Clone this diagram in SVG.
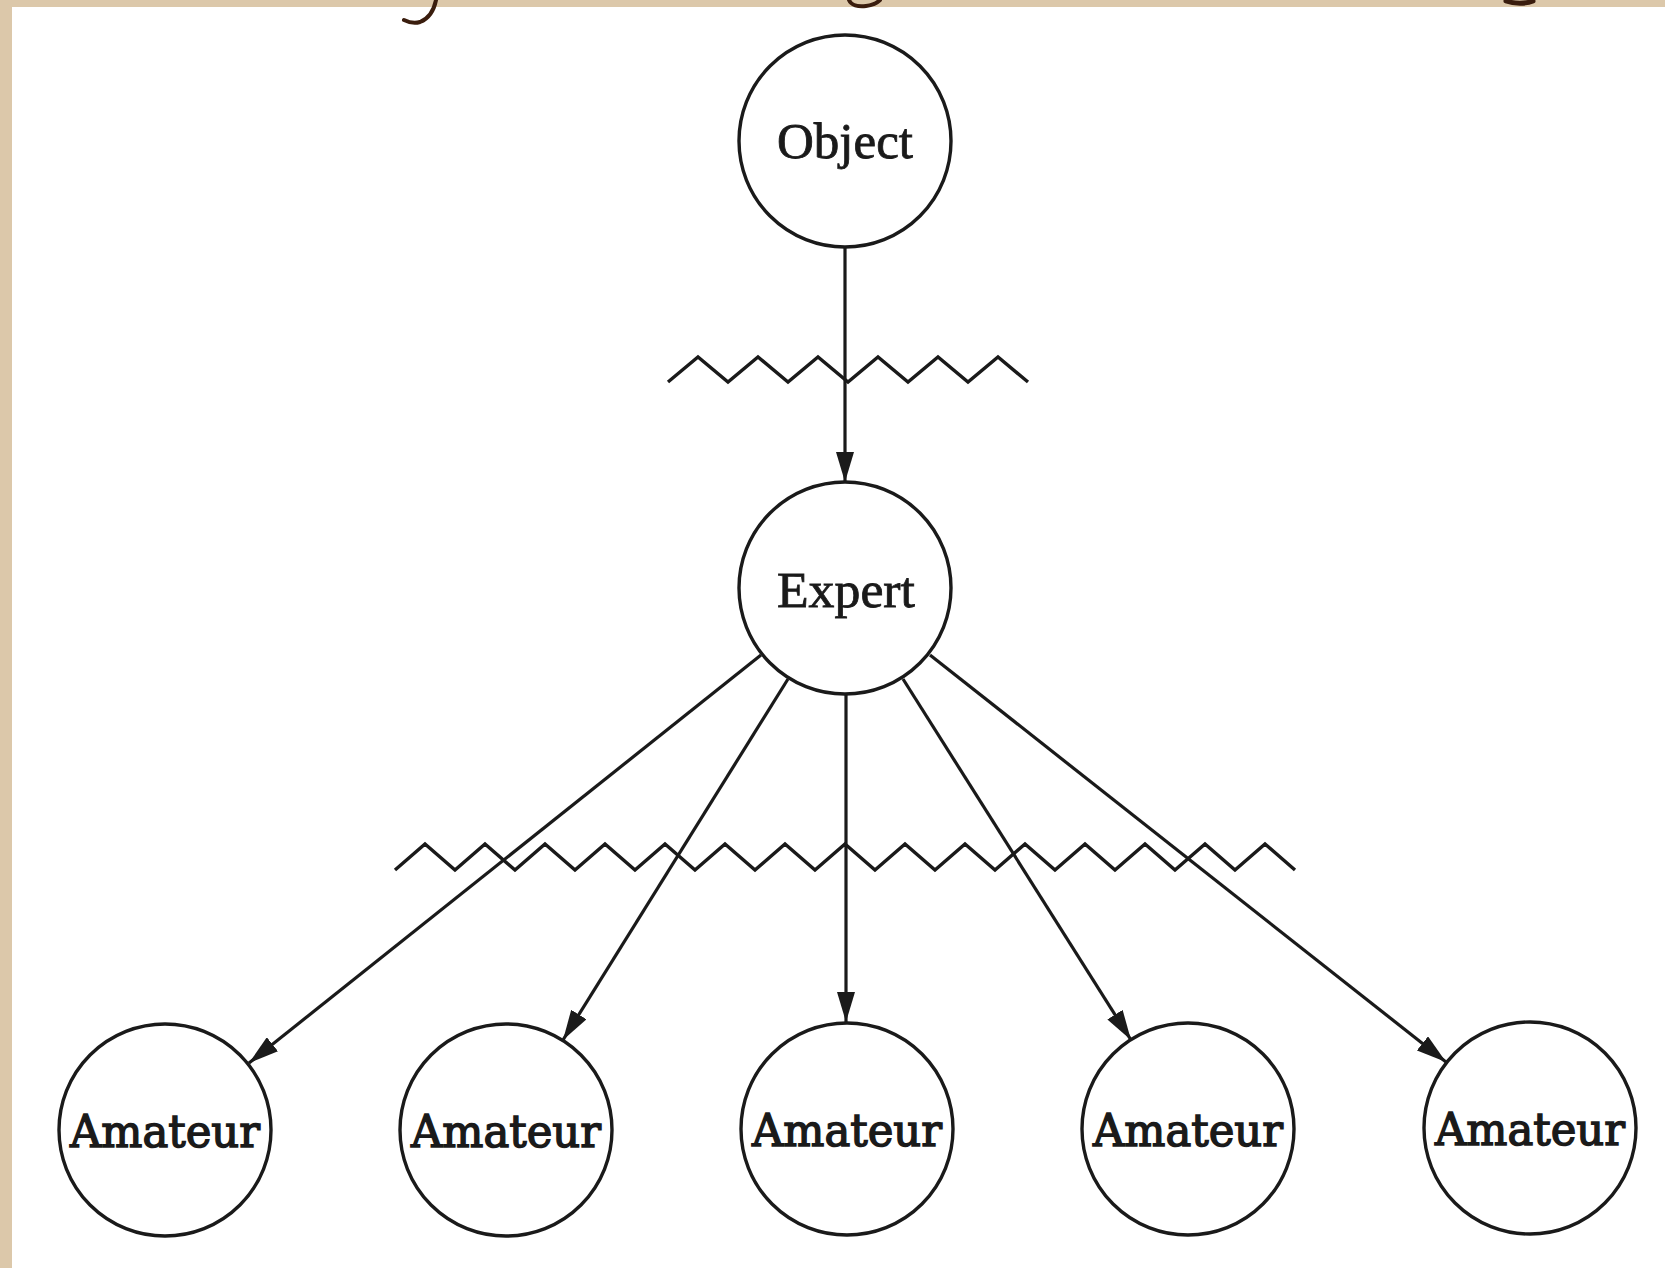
<svg xmlns="http://www.w3.org/2000/svg" width="1665" height="1268" viewBox="0 0 1665 1268">
  <style>
    .node circle { fill: #ffffff; stroke: #1a1a1a; stroke-width: 3.4; }
    .label { font-family: "Liberation Serif", "DejaVu Serif", serif; font-size: 50px; fill: #1a1a1a; stroke: #1a1a1a; stroke-width: 0.8; text-anchor: middle; }
    .am { font-family: "DejaVu Serif", "Liberation Serif", serif; font-size: 45px; stroke-width: 1.5; }
    .edge { stroke: #1a1a1a; stroke-width: 3.2; fill: none; }
    .zig { stroke: #1a1a1a; stroke-width: 3.4; fill: none; stroke-linejoin: miter; }
    .ink { stroke: #3a1d0e; fill: none; stroke-linecap: round; }
  </style>
  <defs>
    <marker id="arrow" markerUnits="userSpaceOnUse" markerWidth="30" markerHeight="18" refX="30" refY="9" orient="auto">
      <path d="M0,0 L30,9 L0,18 Z" fill="#1a1a1a"/>
    </marker>
  </defs>

  <!-- page -->
  <rect x="0" y="0" width="1665" height="1268" fill="#dcc8aa"/>
  <rect x="12" y="7" width="1653" height="1261" fill="#ffffff"/>

  <!-- cut-off handwriting fragments at the top edge -->
  <g id="title-fragments">
    <path class="ink" stroke-width="4" d="M436,0 C434,10 430,18 420,22 C414,24 408,22 404,20"/>
    <path class="ink" stroke-width="4" d="M849,0 C851,5 858,7 866,6 C873,5 878,2 880,0"/>
    <path class="ink" stroke-width="5" d="M1506,1 C1514,4 1526,4 1533,1"/>
  </g>

  <!-- zigzag lines -->
  <g id="zigzags">
    <polyline class="zig" points="668,382 698,357 728,382 758,357 788,382 818,357 848,382 878,357 908,382 938,357 968,382 998,357 1028,382"/>
    <polyline class="zig" points="395,870 425,844 455,870 485,844 515,870 545,844 575,870 605,844 635,870 665,844 695,870 725,844 755,870 785,844 815,870 845,844 875,870 905,844 935,870 965,844 995,870 1025,844 1055,870 1085,844 1115,870 1145,844 1175,870 1205,844 1235,870 1265,844 1295,870"/>
  </g>

  <!-- connectors -->
  <g id="connectors">
    <line class="edge" x1="845" y1="247" x2="845" y2="482" marker-end="url(#arrow)"/>
    <line class="edge" x1="761" y1="655" x2="249" y2="1063" marker-end="url(#arrow)"/>
    <line class="edge" x1="788" y1="679" x2="563" y2="1040" marker-end="url(#arrow)"/>
    <line class="edge" x1="846" y1="695" x2="846" y2="1022" marker-end="url(#arrow)"/>
    <line class="edge" x1="903" y1="679" x2="1131" y2="1040" marker-end="url(#arrow)"/>
    <line class="edge" x1="930" y1="655" x2="1446" y2="1062" marker-end="url(#arrow)"/>
  </g>

  <!-- nodes -->
  <g id="object" class="node">
    <circle cx="845" cy="141" r="106"/>
    <text class="label" x="845" y="158" textLength="136" lengthAdjust="spacingAndGlyphs">Object</text>
  </g>
  <g id="expert" class="node">
    <circle cx="845" cy="588" r="106"/>
    <text class="label" x="846" y="607" textLength="138" lengthAdjust="spacingAndGlyphs">Expert</text>
  </g>
  <g id="amateur1" class="node">
    <circle cx="165" cy="1130" r="106"/>
    <text class="label am" x="165" y="1147" textLength="190" lengthAdjust="spacingAndGlyphs">Amateur</text>
  </g>
  <g id="amateur2" class="node">
    <circle cx="506" cy="1130" r="106"/>
    <text class="label am" x="506" y="1147" textLength="190" lengthAdjust="spacingAndGlyphs">Amateur</text>
  </g>
  <g id="amateur3" class="node">
    <circle cx="847" cy="1129" r="106"/>
    <text class="label am" x="847" y="1146" textLength="190" lengthAdjust="spacingAndGlyphs">Amateur</text>
  </g>
  <g id="amateur4" class="node">
    <circle cx="1188" cy="1129" r="106"/>
    <text class="label am" x="1188" y="1146" textLength="190" lengthAdjust="spacingAndGlyphs">Amateur</text>
  </g>
  <g id="amateur5" class="node">
    <circle cx="1530" cy="1128" r="106"/>
    <text class="label am" x="1530" y="1145" textLength="190" lengthAdjust="spacingAndGlyphs">Amateur</text>
  </g>
</svg>
